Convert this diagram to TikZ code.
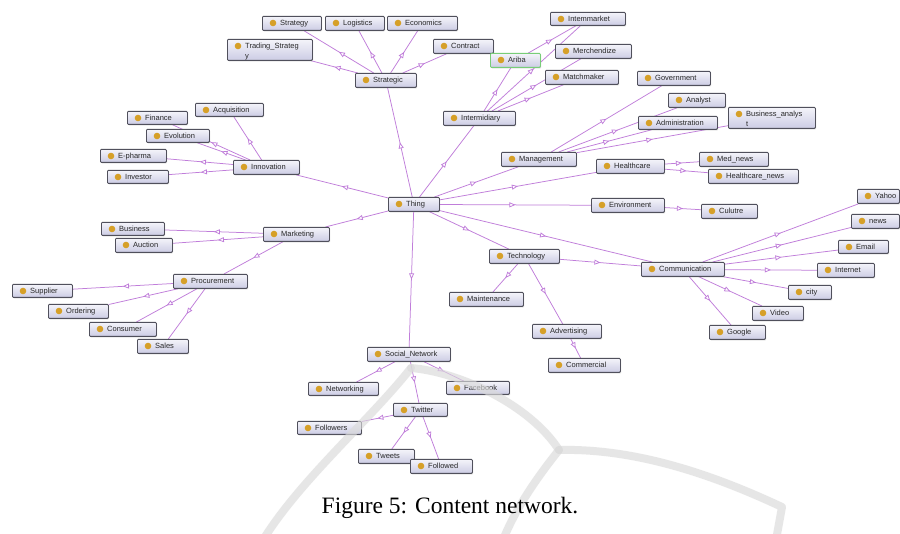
\documentclass[tikz,border=0pt]{standalone}
\usepackage{fontspec}
\setmainfont{Liberation Serif}
\newfontfamily\arialf{Liberation Sans}
\usetikzlibrary{arrows.meta,decorations.markings,shadows}
\definecolor{edgec}{RGB}{192,125,218}
\definecolor{dotc}{RGB}{214,160,40}
\definecolor{boxtop}{RGB}{244,244,250}
\definecolor{boxbot}{RGB}{204,204,228}
\definecolor{boxline}{RGB}{80,80,92}
\definecolor{wmark}{RGB}{218,218,218}
\definecolor{txtc}{RGB}{40,40,40}
\definecolor{aribac}{RGB}{120,205,120}
\pgfdeclarelayer{back}\pgfdeclarelayer{bg}\pgfdeclarelayer{fg}
\pgfsetlayers{back,bg,main,fg}
\tikzset{
  clsbox/.style={draw=boxline, line width=0.8pt, rounded corners=1pt,
    top color=boxtop, bottom color=boxbot, inner sep=0pt,
    drop shadow={shadow xshift=0.8pt, shadow yshift=-0.9pt, opacity=0.35}},
  clstext/.style={font=\arialf\fontsize{7.5}{9}\selectfont, text=txtc, inner sep=0pt},
  edge/.style={color=edgec, line width=0.75pt, postaction={decorate},
    decoration={markings, mark=at position 0.5 with {\arrow{Triangle[length=6pt,width=5pt,fill=white]}}}},
  wm/.style={draw=wmark, line width=8pt, line cap=round, line join=round, opacity=0.65},
}
% [border colour] name, left, top, width, height, text
\newcommand\cls[7][boxline]{%
  \node[clsbox, draw=#1, minimum width=#5pt, minimum height=#6pt, anchor=north west] (#2) at (#3,#4) {};
  \fill[dotc] ([xshift=11pt,yshift=-7pt]#2.north west) circle (3.3pt);
  \node[clstext, anchor=base west] (#2-t) at ([xshift=18pt,yshift=-9.7pt]#2.north west) {#7};
}
\newcommand\clsII[7]{%
  \cls{#1}{#2}{#3}{#4}{#5}{#6}%
  \node[clstext, anchor=base west] (#1-u) at ([yshift=-9.8pt]#1-t.base west) {#7};
}
\begin{document}
\begin{tikzpicture}[x=1pt,y=-1pt]
\useasboundingbox (0,0) rectangle (900,534);
\begin{pgfonlayer}{back}
  \fill[white] (0,0) rectangle (900,534);
\end{pgfonlayer}

% nodes
\cls{strategy}{262}{16}{59}{14}{Strategy}
\cls{logistics}{325}{16}{59}{14}{Logistics}
\cls{economics}{387}{16}{70}{14}{Economics}
\clsII{trading}{227}{39}{85}{21}{Trading\_Strateg}{y}
\cls{contract}{433}{39}{60}{14}{Contract}
\cls{strategic}{355}{73}{61}{14}{Strategic}
\cls{intemmarket}{550}{12}{75}{13}{Intemmarket}
\cls{merchendize}{555}{44}{76}{14}{Merchendize}
\cls[aribac]{ariba}{490}{53}{50}{14}{Ariba}
\cls{matchmaker}{545}{70}{73}{14}{Matchmaker}
\cls{government}{637}{71}{73}{14}{Government}
\cls{analyst}{668}{93}{57}{14}{Analyst}
\clsII{busanalyst}{728}{107}{87}{21}{Business\_analys}{t}
\cls{administration}{638}{116}{79}{13}{Administration}
\cls{intermidiary}{443}{111}{72}{14}{Intermidiary}
\cls{management}{501}{152}{75}{14}{Management}
\cls{healthcare}{596}{159}{68}{14}{Healthcare}
\cls{mednews}{699}{152}{69}{14}{Med\_news}
\cls{hcnews}{708}{169}{90}{14}{Healthcare\_news}
\cls{thing}{388}{197}{51}{14}{Thing}
\cls{environment}{591}{198}{73}{14}{Environment}
\cls{culutre}{701}{204}{56}{14}{Culutre}
\cls{acquisition}{195}{103}{68}{13}{Acquisition}
\cls{finance}{127}{111}{60}{13}{Finance}
\cls{evolution}{146}{129}{63}{13}{Evolution}
\cls{epharma}{100}{149}{66}{13}{E-pharma}
\cls{innovation}{233}{160}{66}{14}{Innovation}
\cls{investor}{107}{170}{61}{13}{Investor}
\cls{business}{101}{222}{63}{13}{Business}
\cls{auction}{115}{238}{57}{14}{Auction}
\cls{marketing}{263}{227}{66}{14}{Marketing}
\cls{procurement}{173}{274}{74}{14}{Procurement}
\cls{supplier}{12}{284}{60}{13}{Supplier}
\cls{ordering}{48}{304}{60}{14}{Ordering}
\cls{consumer}{89}{322}{67}{14}{Consumer}
\cls{sales}{137}{339}{51}{14}{Sales}
\cls{yahoo}{857}{189}{42}{14}{Yahoo}
\cls{news}{851}{214}{48}{14}{news}
\cls{email}{838}{240}{50}{13}{Email}
\cls{internet}{817}{263}{57}{14}{Internet}
\cls{city}{788}{285}{43}{14}{city}
\cls{video}{752}{306}{51}{14}{Video}
\cls{google}{709}{325}{56}{14}{Google}
\cls{communication}{641}{262}{83}{14}{Communication}
\cls{technology}{489}{249}{70}{14}{Technology}
\cls{maintenance}{449}{292}{74}{14}{Maintenance}
\cls{advertising}{532}{324}{69}{14}{Advertising}
\cls{commercial}{548}{358}{72}{14}{Commercial}
\cls{social}{367}{347}{83}{14}{Social\_Network}
\cls{networking}{308}{382}{70}{13}{Networking}
\cls{facebook}{446}{381}{63}{13}{Facebook}
\cls{twitter}{393}{403}{54}{13}{Twitter}
\cls{followers}{297}{421}{64}{13}{Followers}
\cls{tweets}{358}{449}{56}{14}{Tweets}
\cls{followed}{410}{459}{62}{14}{Followed}

% edges
\begin{pgfonlayer}{bg}
\foreach \c in {strategic,intermidiary,management,healthcare,environment,communication,technology,social,marketing,innovation}
  \draw[edge] (thing) -- (\c);
\foreach \c in {strategy,logistics,economics,trading,contract}
  \draw[edge] (strategic) -- (\c);
\foreach \c in {intemmarket,ariba,merchendize,matchmaker}
  \draw[edge] (intermidiary) -- (\c);
\draw[edge] (ariba) -- (intemmarket);
\foreach \c in {government,analyst,administration,busanalyst}
  \draw[edge] (management) -- (\c);
\foreach \c in {mednews,hcnews}
  \draw[edge] (healthcare) -- (\c);
\draw[edge] (environment) -- (culutre);
\foreach \c in {yahoo,news,email,internet,city,video,google}
  \draw[edge] (communication) -- (\c);
\foreach \c in {communication,maintenance,advertising}
  \draw[edge] (technology) -- (\c);
\draw[edge] (advertising) -- (commercial);
\foreach \c in {networking,facebook,twitter}
  \draw[edge] (social) -- (\c);
\foreach \c in {followers,tweets,followed}
  \draw[edge] (twitter) -- (\c);
\foreach \c in {business,auction,procurement}
  \draw[edge] (marketing) -- (\c);
\foreach \c in {supplier,ordering,consumer,sales}
  \draw[edge] (procurement) -- (\c);
\foreach \c in {acquisition,finance,evolution,epharma,investor}
  \draw[edge] (innovation) -- (\c);
\end{pgfonlayer}

% watermark
\begin{pgfonlayer}{fg}
  \coordinate (wa) at (411,368);
  \coordinate (wj) at (559,450);
  \draw[wm] (wa) .. controls (370,420) and (300,480) .. (263,540);
  \draw[wm] (wa) .. controls (460,372) and (530,405) .. (wj);
  \draw[wm] (wj) .. controls (535,480) and (515,510) .. (503,540);
  \draw[wm] (wj) .. controls (640,448) and (720,478) .. (782,507) -- (776,540);
  \node[font=\fontsize{23.5}{26}\selectfont, anchor=base, inner sep=0pt] (caption) at (450,513) {Figure 5: Content network.};
\end{pgfonlayer}
\end{tikzpicture}
\end{document}
